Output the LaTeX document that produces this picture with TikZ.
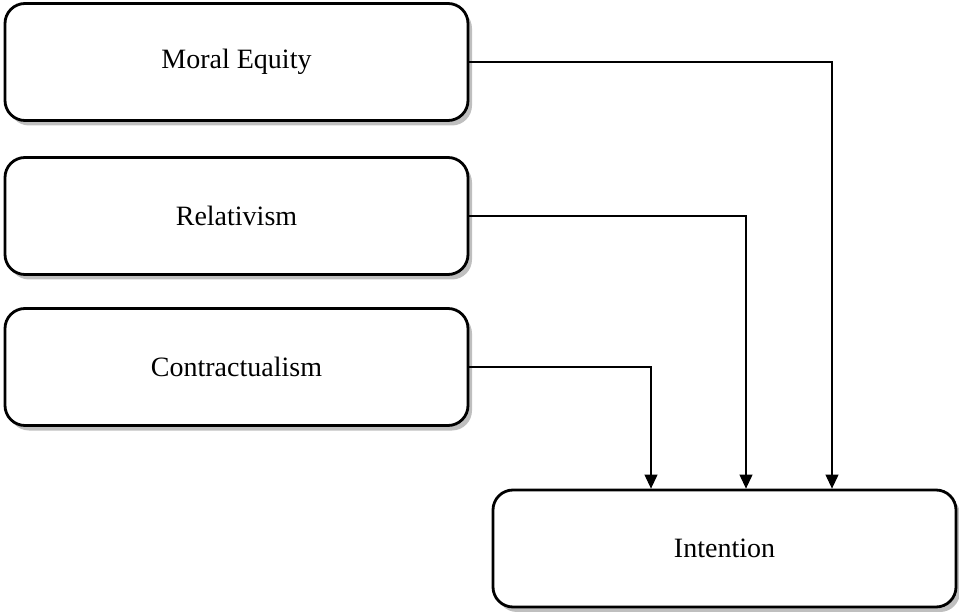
\documentclass[tikz,border=0pt]{standalone}
\usepackage{fontspec}
\setmainfont{Liberation Serif}
\usetikzlibrary{arrows.meta,shadows}
\tikzset{
  factor/.style={draw,line width=2.8pt,rounded corners=20pt,fill=white,
    minimum width=463pt,minimum height=117pt,
    drop shadow={opacity=0.5,shadow xshift=4pt,shadow yshift=-5pt},
    font=\fontsize{28}{32}\selectfont},
  link/.style={line width=1.1pt,-{Triangle[width=13pt,length=14pt]}}
}
\begin{document}
\begin{tikzpicture}[x=1pt,y=-1pt]
\useasboundingbox (0,0) rectangle (959,612);
\node[factor] (moral) at (236.5,62) {Moral Equity};
\node[factor] (relat) at (236.5,216) {Relativism};
\node[factor] (contr) at (236.5,367) {Contractualism};
\node[factor] (intent) at (724.5,548.5) {Intention};
\draw[link] (moral.east) -| ([xshift=107.5pt]intent.north);
\draw[link] (relat.east) -| ([xshift=21.5pt]intent.north);
\draw[link] (contr.east) -| ([xshift=-73.5pt]intent.north);
\end{tikzpicture}
\end{document}
